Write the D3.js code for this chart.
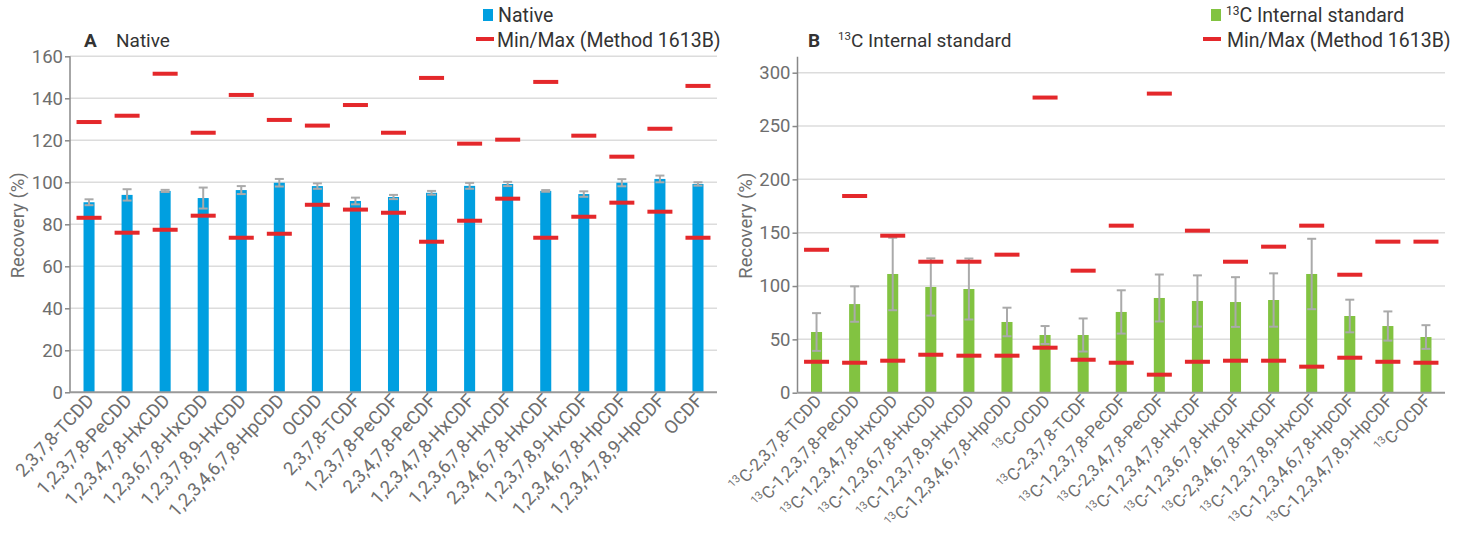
<!DOCTYPE html>
<html><head><meta charset="utf-8">
<script src="https://cdn.jsdelivr.net/npm/d3@7"></script>
<style>
html,body{margin:0;padding:0;background:#fff;}
svg{display:block;font-family:Roboto, "Noto Sans", sans-serif;}
</style></head>
<body>
<svg id="chart" width="1460" height="533"></svg>
<script>
const categories = ["2,3,7,8-TCDD","1,2,3,7,8-PeCDD","1,2,3,4,7,8-HxCDD","1,2,3,6,7,8-HxCDD","1,2,3,7,8,9-HxCDD","1,2,3,4,6,7,8-HpCDD","OCDD","2,3,7,8-TCDF","1,2,3,7,8-PeCDF","2,3,4,7,8-PeCDF","1,2,3,4,7,8-HxCDF","1,2,3,6,7,8-HxCDF","2,3,4,6,7,8-HxCDF","1,2,3,7,8,9-HxCDF","1,2,3,4,6,7,8-HpCDF","1,2,3,4,7,8,9-HpCDF","OCDF"];

const nativeMean = [90.5, 94, 95.9, 92.5, 96.3, 99.8, 98.2, 91.1, 93, 95, 98.3, 99.2, 95.9, 94.4, 99.8, 101.6, 99.2];
const nativeSD   = [1.4, 2.7, 0.5, 5, 1.9, 1.8, 1.3, 1.6, 1, 0.9, 1.4, 1, 0.4, 1.3, 1.7, 1.6, 0.8];
const nativeMin  = [83.1, 76, 77.4, 84.1, 73.6, 75.5, 89.3, 87, 85.5, 71.7, 81.7, 92.2, 73.6, 83.6, 90.3, 86, 73.6];
const nativeMax  = [128.7, 131.7, 151.7, 123.6, 141.6, 129.7, 127, 136.8, 123.6, 149.7, 118.4, 120.3, 147.8, 122.2, 112.2, 125.5, 145.9];

const istdMean = [56.9, 83.1, 111.3, 99.1, 97.2, 66.3, 54.1, 54.1, 75.7, 88.8, 86, 85, 86.9, 111.3, 71.9, 62.5, 52.2];
const istdSD   = [17.7, 16.6, 34, 26.8, 28.6, 13.4, 8.4, 15.5, 20.3, 22, 24, 23.3, 25, 33, 15.3, 13.7, 11.1];
const istdMin  = [29, 28.1, 30, 35.6, 34.7, 34.7, 42.2, 30.9, 28.1, 16.9, 29, 30, 30, 24.4, 32.8, 29, 28.1];
const istdMax  = [134, 184.4, 147.2, 122.8, 122.8, 129.4, 276.7, 114.4, 156.6, 280.4, 151.9, 122.8, 136.9, 156.6, 110.6, 141.6, 141.6];

const ticksA = [0, 20, 40, 60, 80, 100, 120, 140, 160];
const ticksB = [0, 50, 100, 150, 200, 250, 300];

const svg = d3.select("#chart");
const BLUE = "#009fe0", GREEN = "#82c341", RED = "#e4282b", ERR = "#aaaaaa";
const TXT = "#6e6e6e";

function panel(opt) {
  const g = svg.append("g");
  const x = d3.scaleBand().domain(d3.range(categories.length)).range([opt.x0, opt.x1]).paddingInner(0.71).paddingOuter(0.355);
  const y = d3.scaleLinear().domain([0, opt.ymax]).range([opt.yb, opt.yt]);

  g.append("g").selectAll("line").data(opt.ticks.filter(t => t > 0)).join("line")
    .attr("x1", opt.x0).attr("x2", opt.x1)
    .attr("y1", d => y(d)).attr("y2", d => y(d))
    .attr("stroke", "#dcdcdc").attr("stroke-width", 1.5);

  const ax = g.append("g").attr("transform", `translate(${opt.x0},0)`)
    .call(d3.axisLeft(y).tickValues(opt.ticks).tickSize(5).tickPadding(2).tickSizeOuter(0));
  ax.select(".domain").remove();
  ax.selectAll(".tick line").attr("stroke", "#888").attr("stroke-width", 1.5);
  ax.selectAll(".tick text").attr("fill", TXT).style("font-size", "18.5px").style("font-family", "Roboto");
  g.append("line").attr("x1", opt.x0).attr("x2", opt.x0).attr("y1", opt.yt).attr("y2", opt.yb)
    .attr("stroke", "#888").attr("stroke-width", 1.5);

  g.append("g").selectAll("rect").data(opt.mean).join("rect")
    .attr("x", (d, i) => x(i)).attr("width", x.bandwidth())
    .attr("y", d => y(d)).attr("height", d => y(0) - y(d))
    .attr("fill", opt.color);

  g.append("line").attr("x1", opt.x0).attr("x2", opt.x1).attr("y1", y(0)).attr("y2", y(0))
    .attr("stroke", "#999").attr("stroke-width", 2);

  const eg = g.append("g").attr("stroke", ERR).attr("stroke-width", 2);
  opt.mean.forEach((m, i) => {
    const cx = x(i) + x.bandwidth() / 2;
    const hi = y(m + opt.sd[i]), lo = y(m - opt.sd[i]);
    eg.append("line").attr("x1", cx).attr("x2", cx).attr("y1", hi).attr("y2", lo);
    eg.append("line").attr("x1", cx - 4.5).attr("x2", cx + 4.5).attr("y1", hi).attr("y2", hi);
    eg.append("line").attr("x1", cx - 4.5).attr("x2", cx + 4.5).attr("y1", lo).attr("y2", lo);
  });

  const mg = g.append("g");
  [opt.min, opt.max].forEach(arr => {
    mg.selectAll(null).data(arr).join("rect")
      .attr("x", (d, i) => x(i) + x.bandwidth() / 2 - 12.5).attr("width", 25)
      .attr("y", d => y(d) - 2).attr("height", 4).attr("fill", RED);
  });

  const lg = g.append("g");
  categories.forEach((c, i) => {
    const cx = x(i) + x.bandwidth() / 2 + 6;
    const t = lg.append("text").attr("transform", `translate(${cx},${y(0) + 9}) rotate(-47)`)
      .attr("text-anchor", "end").attr("fill", TXT).style("font-size", opt.labelSize);
    if (opt.prefix) {
      t.append("tspan").text("13").style("font-size", "11px").attr("dy", -7);
      t.append("tspan").text("C-" + c).attr("dy", 7);
    } else {
      t.text(c);
    }
  });

  g.append("text").attr("transform", `translate(${opt.ylabX},${(opt.yt + opt.yb) / 2 + 1}) rotate(-90)`)
    .attr("text-anchor", "middle").attr("fill", TXT).style("font-size", "18.5px").text("Recovery (%)");
  return g;
}

panel({x0: 70, x1: 717, yb: 392.3, yt: 56.3, ymax: 160, ticks: ticksA, color: BLUE,
  mean: nativeMean, sd: nativeSD, min: nativeMin, max: nativeMax, prefix: false, ylabX: 24, labelSize: "18.5px"});
panel({x0: 797.5, x1: 1445, yb: 392.7, yt: 56.7, ymax: 315, ticks: ticksB, color: GREEN,
  mean: istdMean, sd: istdSD, min: istdMin, max: istdMax, prefix: true, ylabX: 752, labelSize: "17px"});

svg.append("text").attr("x", 84).attr("y", 47).attr("fill", "#333").style("font-size", "19px").style("font-weight", "bold").text("A");
svg.append("text").attr("x", 116).attr("y", 47).attr("fill", "#333").style("font-size", "19px").text("Native");
svg.append("text").attr("x", 808).attr("y", 47).attr("fill", "#333").style("font-size", "19px").style("font-weight", "bold").text("B");
const tB = svg.append("text").attr("x", 838).attr("y", 47).attr("fill", "#333").style("font-size", "19px");
tB.append("tspan").text("13").style("font-size", "11.5px").attr("dy", -7);
tB.append("tspan").text("C Internal standard").attr("dy", 7);

function legend(sqX, sqColor, lineX, textX1, textX2, label1Prefix, label1) {
  svg.append("rect").attr("x", sqX).attr("y", 9).attr("width", 10).attr("height", 12).attr("fill", sqColor);
  const t = svg.append("text").attr("x", textX1).attr("y", 22).attr("fill", "#333").style("font-size", "19.5px");
  if (label1Prefix) {
    t.append("tspan").text("13").style("font-size", "12px").attr("dy", -7);
    t.append("tspan").text(label1).attr("dy", 7);
  } else t.text(label1);
  svg.append("rect").attr("x", lineX).attr("y", 37).attr("width", 18).attr("height", 4).attr("fill", RED);
  svg.append("text").attr("x", textX2).attr("y", 47).attr("fill", "#333").style("font-size", "19.5px").text("Min/Max (Method 1613B)");
}
legend(483, BLUE, 476, 498, 497, false, "Native");
legend(1211, GREEN, 1203, 1226, 1227, true, "C Internal standard");
</script>
</body></html>
